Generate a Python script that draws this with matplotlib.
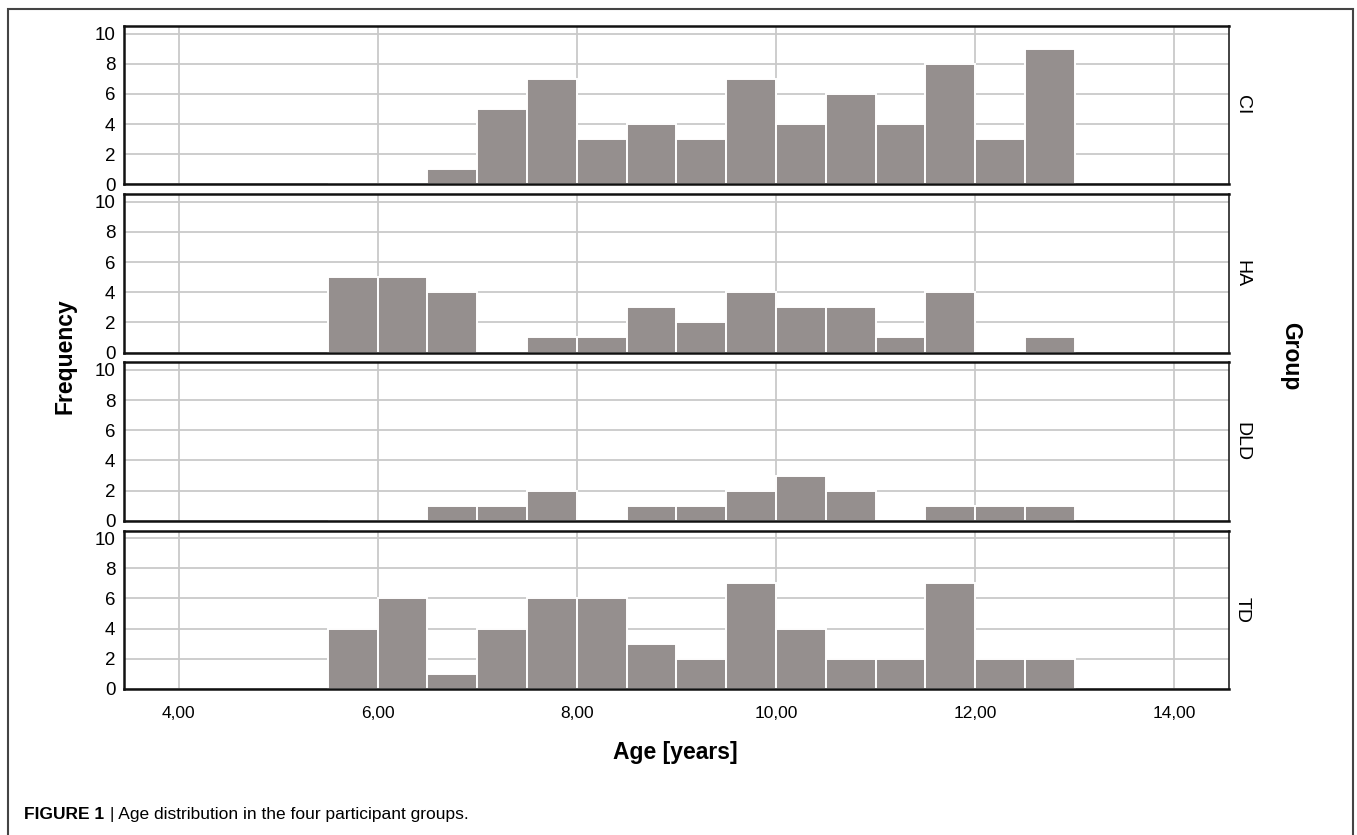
import numpy as np
import matplotlib.pyplot as plt
from matplotlib.patches import Rectangle

# histogram bins: half-year steps from 5.5 to 13 years
bin_edges = np.arange(5.5, 13.01, 0.5)
groups = ["CI", "HA", "DLD", "TD"]

# counts per bin for each group
ci_counts = [0, 0, 1, 5, 7, 3, 4, 3, 7, 4, 6, 4, 8, 3, 9]
ha_counts = [5, 5, 4, 0, 1, 1, 3, 2, 4, 3, 3, 1, 4, 0, 1]
dld_counts = [0, 0, 1, 1, 2, 0, 1, 1, 2, 3, 2, 0, 1, 1, 1]
td_counts = [4, 6, 1, 4, 6, 6, 3, 2, 7, 4, 2, 2, 7, 2, 2]
all_counts = [ci_counts, ha_counts, dld_counts, td_counts]

x_ticks = [4, 6, 8, 10, 12, 14]
x_labels = ["4,00", "6,00", "8,00", "10,00", "12,00", "14,00"]
y_ticks = [0, 2, 4, 6, 8, 10]

bar_color = "#958f8e"
grid_color = "#c9c9c9"
plt.rcParams["font.family"] = ["Liberation Sans", "DejaVu Sans"]

fig, axes = plt.subplots(4, 1, figsize=(13.57, 8.35), dpi=100, sharex=True)
fig.subplots_adjust(left=0.0912, right=0.9057, top=0.9689, bottom=0.1749, hspace=0.062)

for ax, name, counts in zip(axes, groups, all_counts):
    ax.set_axisbelow(True)
    ax.grid(True, color=grid_color, linewidth=1.3)
    ax.bar(bin_edges[:-1], counts, width=0.5, align="edge", color=bar_color,
           edgecolor="white", linewidth=1.4, zorder=2)
    ax.set_xlim(3.45, 14.55)
    ax.set_ylim(0, 10.5)
    ax.set_yticks(y_ticks)
    ax.set_xticks(x_ticks)
    ax.set_xticklabels(x_labels)
    ax.tick_params(axis="y", length=0, pad=6, labelsize=13.5)
    ax.tick_params(axis="x", length=0, pad=6, labelsize=12.5)
    for side in ["left", "bottom", "top"]:
        ax.spines[side].set_linewidth(1.8)
        ax.spines[side].set_color("#111111")
    ax.spines["right"].set_linewidth(1.2)
    ax.spines["right"].set_color("#222222")
    # group name on the right side of each panel
    ax.text(1.012, 0.5, name, transform=ax.transAxes, rotation=-90,
            ha="center", va="center", fontsize=14)

axes[-1].tick_params(axis="x", pad=12)

fig.text(0.048, 0.574, "Frequency", rotation=90, ha="center", va="center",
         fontsize=16.5, fontweight="bold")
fig.text(0.951, 0.574, "Group", rotation=-90, ha="center", va="center",
         fontsize=16.5, fontweight="bold")
fig.text(0.498, 0.099, "Age [years]", ha="center", va="center",
         fontsize=16.5, fontweight="bold")

# caption under the chart
cap1 = fig.text(0.018, 0.024, "FIGURE 1", ha="left", va="center",
                fontsize=12.5, fontweight="bold")
fig.canvas.draw()
bb = cap1.get_window_extent()
x_next = (bb.x1 + 5) / fig.bbox.width
fig.text(x_next, 0.024, "| Age distribution in the four participant groups.",
         ha="left", va="center", fontsize=12.5)

# outer frame
fig.patches.append(Rectangle((0.006, -0.02), 0.991, 1.009, transform=fig.transFigure,
                             fill=False, edgecolor="#444444", linewidth=1.5))

fig.savefig("out.png", dpi=100)
